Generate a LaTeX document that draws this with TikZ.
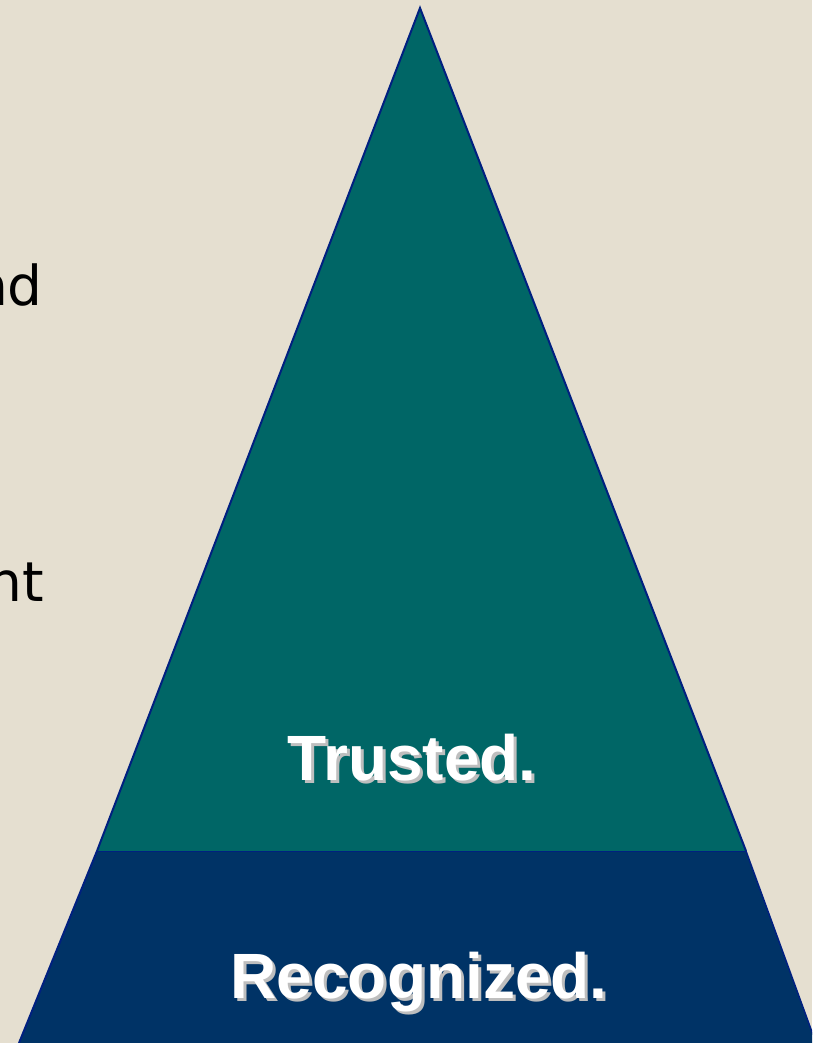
\documentclass[tikz,border=0pt]{standalone}
\usepackage{fontspec}
\setmainfont{DejaVu Sans}
\newfontfamily\labelfont{Liberation Sans}
\definecolor{paper}{RGB}{229,223,208}
\definecolor{topband}{RGB}{0,102,102}
\definecolor{baseband}{RGB}{0,51,102}
\definecolor{rim}{RGB}{0,32,128}
\definecolor{shade}{RGB}{190,190,190}
\tikzset{
  x=1pt, y=-1pt,
  sidetext/.style={inner sep=0pt, font=\fontsize{55}{60}\selectfont, text=black},
  tierlabel/.style={inner sep=0pt, text=white, font=\labelfont\bfseries\fontsize{64}{70}\selectfont},
  tiershadow/.style={tierlabel, text=shade},
}
\begin{document}
\begin{tikzpicture}
  \useasboundingbox (0,0) rectangle (812,1043);
  \clip (0,0) rectangle (812,1043);
  \fill[paper] (0,0) rectangle (812,1043);

  % base tier of the pyramid
  \fill[baseband] (97,851) -- (746,851) -- (816,1043) -- (19,1043) -- cycle;
  \draw[rim, line width=2pt] (97,851) -- (19,1043);
  \draw[rim, line width=1.5pt] (746,851) -- (816,1043);
  % upper tier of the pyramid
  \fill[topband] (420,8) -- (746,851) -- (97,851) -- cycle;
  \draw[rim, line width=2pt, line join=miter] (97,851) -- (420,8) -- (746,851);
  \draw[rim, line width=1pt] (97,851) -- (746,851);

  % text running in from the left margin
  \node[sidetext, anchor=base east] (lineA) at (43,305) {nd};
  \node[sidetext, anchor=base east] (lineB) at (44,601) {nt};

  % tier labels with drop shadow
  \node[tiershadow, anchor=base] (trustedS) at (415,783) {Trusted.};
  \node[tierlabel, anchor=base] (trusted) at (412,780) {Trusted.};
  \node[tiershadow, anchor=base] (recogS) at (422,1001) {Recognized.};
  \node[tierlabel, anchor=base] (recog) at (419,998) {Recognized.};
\end{tikzpicture}
\end{document}
